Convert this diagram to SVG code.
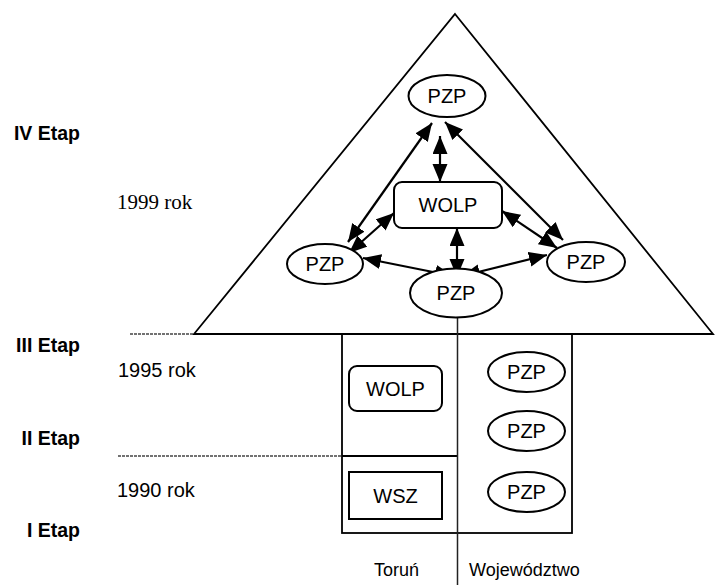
<svg xmlns="http://www.w3.org/2000/svg" width="715" height="585" viewBox="0 0 715 585">
<style>
.frame{fill:none;stroke:#000;stroke-width:1.8}
.thin{fill:none;stroke:#222;stroke-width:1.5}
.dot{fill:none;stroke:#444;stroke-width:1.4;stroke-dasharray:3 1}
.n{fill:#fff;stroke:#000;stroke-width:2}
.t{font-family:"Liberation Sans",Arial,sans-serif;font-size:20px;text-anchor:middle;fill:#000}
.etap{font-family:"Liberation Sans",Arial,sans-serif;font-weight:bold;font-size:19.5px;text-anchor:end;fill:#000}
.yr{font-family:"Liberation Sans",Arial,sans-serif;font-size:20px;fill:#000}
.yrs{font-family:"Liberation Serif","Times New Roman",serif;font-size:21px;fill:#000}
.lbl{font-family:"Liberation Sans",Arial,sans-serif;font-size:18px;fill:#000}
.c{stroke:#000;stroke-width:2.2;fill:none;marker-start:url(#ah);marker-end:url(#ah)}
</style>
<defs>
<marker id="ah" markerUnits="userSpaceOnUse" markerWidth="19" markerHeight="16" refX="18" refY="7.5" orient="auto-start-reverse" viewBox="0 0 19 16">
<path d="M0,0 L18,7.5 L0,15 z" fill="#000"/>
</marker>
</defs>
<rect width="715" height="585" fill="#fff"/>

<g id="frame">
<polygon class="frame" points="455,14 713,334 194,334"/>
<line class="dot" x1="130" y1="334" x2="194" y2="334"/>
<line class="dot" x1="118" y1="456" x2="342" y2="456"/>
<line class="frame" x1="342" y1="456" x2="457.5" y2="456"/>
<rect class="frame" x="342" y="334" width="230" height="199"/>
<line class="thin" x1="457.5" y1="317" x2="457.5" y2="585"/>
</g>

<g id="labels">
<text class="etap" x="80" y="140">IV Etap</text>
<text class="etap" x="80" y="352">III Etap</text>
<text class="etap" x="80" y="445">II Etap</text>
<text class="etap" x="80" y="537">I Etap</text>
<text class="yrs" x="117" y="209">1999 rok</text>
<text class="yr" x="118" y="377">1995 rok</text>
<text class="yr" x="117" y="497">1990 rok</text>
<text class="lbl" x="374" y="576">Toruń</text>
<text class="lbl" x="469" y="576">Województwo</text>
</g>

<g id="connectors">
<line class="c" x1="440" y1="136" x2="440" y2="182"/>
<line class="c" x1="432" y1="123" x2="348" y2="242"/>
<line class="c" x1="445" y1="122" x2="563" y2="240"/>
<line class="c" x1="394" y1="213" x2="349" y2="253"/>
<line class="c" x1="502" y1="211" x2="557" y2="248"/>
<line class="c" x1="457" y1="228" x2="457" y2="277"/>
<line class="c" x1="363" y1="258" x2="453" y2="276"/>
<line class="c" x1="547" y1="255" x2="462" y2="276"/>
</g>

<g id="pzp-top">
<ellipse class="n" cx="447" cy="96" rx="38.5" ry="21"/>
<text class="t" x="447" y="103">PZP</text>
</g>
<g id="wolp-top">
<rect class="n" x="394" y="182" width="108" height="46" rx="8"/>
<text class="t" x="448" y="212">WOLP</text>
</g>
<g id="pzp-left">
<ellipse class="n" cx="325" cy="264" rx="38" ry="20"/>
<text class="t" x="325" y="271">PZP</text>
</g>
<g id="pzp-right">
<ellipse class="n" cx="586" cy="262" rx="39" ry="20"/>
<text class="t" x="586" y="269">PZP</text>
</g>
<g id="pzp-bottom">
<ellipse class="n" cx="456" cy="293" rx="46" ry="24.5"/>
<text class="t" x="456" y="300">PZP</text>
</g>

<g id="wolp-1995">
<rect class="n" x="349" y="366" width="93" height="45" rx="8"/>
<text class="t" x="395.5" y="395.5">WOLP</text>
</g>
<g id="wsz-1990">
<rect class="n" x="349" y="472" width="93" height="47"/>
<text class="t" x="395.5" y="502.5">WSZ</text>
</g>
<g id="pzp-w1">
<ellipse class="n" cx="526.5" cy="372" rx="38.5" ry="20"/>
<text class="t" x="526.5" y="379">PZP</text>
</g>
<g id="pzp-w2">
<ellipse class="n" cx="526.5" cy="431" rx="38.5" ry="20"/>
<text class="t" x="526.5" y="438">PZP</text>
</g>
<g id="pzp-w3">
<ellipse class="n" cx="526.5" cy="492" rx="38.5" ry="20"/>
<text class="t" x="526.5" y="499">PZP</text>
</g>
</svg>
